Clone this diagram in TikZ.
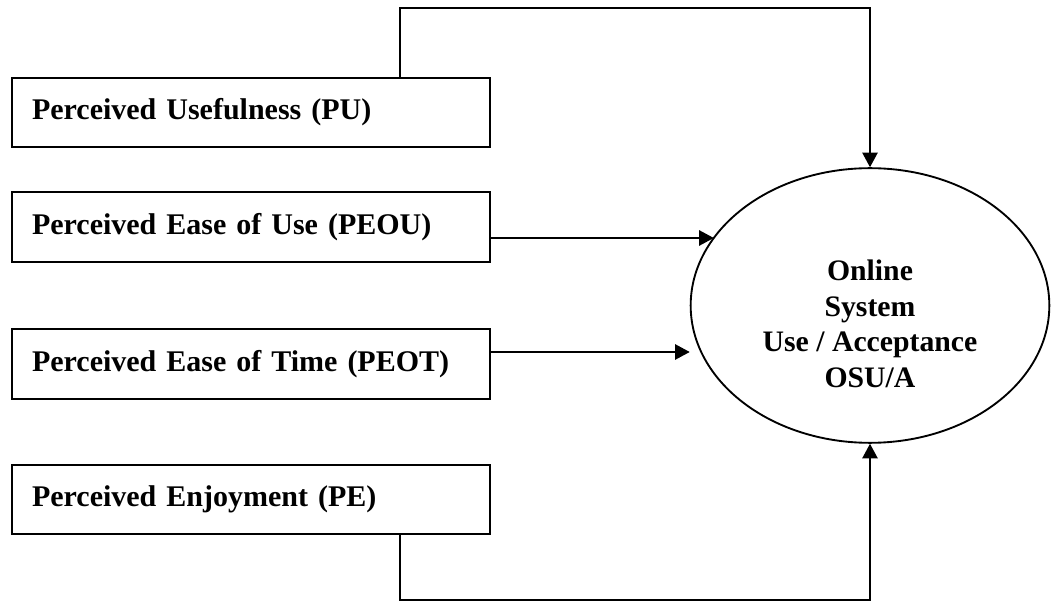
\documentclass[tikz,border=0pt]{standalone}
\usepackage{fontspec}
\setmainfont{Liberation Serif}
\usetikzlibrary{shapes.geometric,arrows.meta,intersections}

\begin{document}
\begin{tikzpicture}[x=0.75pt,y=-0.75pt,
  factor/.style={draw,line width=1.4pt,minimum width=358.5pt,minimum height=52pt,
    inner xsep=15pt,text width=328.5pt,align=left,
    font=\bfseries\fontsize{22.5}{27}\selectfont},
  outcome/.style={draw,ellipse,line width=1.4pt,minimum width=269pt,
    minimum height=206pt,inner sep=0pt},
  outlabel/.style={align=center,font=\bfseries\fontsize{22.3}{26.6}\selectfont},
  link/.style={line width=1.3pt,-{Triangle[length=11pt,width=11.5pt]}}]

  \useasboundingbox (0,0) rectangle (1051,602);

  % influencing factors
  \node[factor] (PU)   at (251,112.5) {Perceived Usefulness (PU)};
  \node[factor] (PEOU) at (251,227)   {Perceived Ease of Use (PEOU)};
  \node[factor] (PEOT) at (251,364)   {Perceived Ease of Time (PEOT)};
  \node[factor] (PE)   at (251,499.5) {Perceived Enjoyment (PE)};

  % outcome construct
  \node[outcome,name path=osuborder] (osu) at (870,305.5) {};
  \node[outlabel] (osutext) at (870,324) {Online\\System\\Use / Acceptance\\OSU/A};

  % routing levels for the outer connectors
  \coordinate (topc) at (0,8);
  \coordinate (botc) at (0,600);

  % where the PEOU connector meets the ellipse
  \path[name path=peouline] ([yshift=-8.25pt]PEOU.east) -- ++(300,0);
  \path[name intersections={of=osuborder and peouline,by=peouhit}];
  \coordinate (peoutip) at (peouhit);

  \draw[link] ([xshift=111.75pt]PU.north) |- (osu.north |- topc) -- (osu.north);
  \draw[link] ([yshift=-8.25pt]PEOU.east) -- (peoutip);
  \draw[link] ([yshift=9pt]PEOT.east) -- ([yshift=9pt]PEOT.east -| osu.west);
  \draw[link] ([xshift=111.75pt]PE.south) |- (osu.south |- botc) -- (osu.south);
\end{tikzpicture}
\end{document}
